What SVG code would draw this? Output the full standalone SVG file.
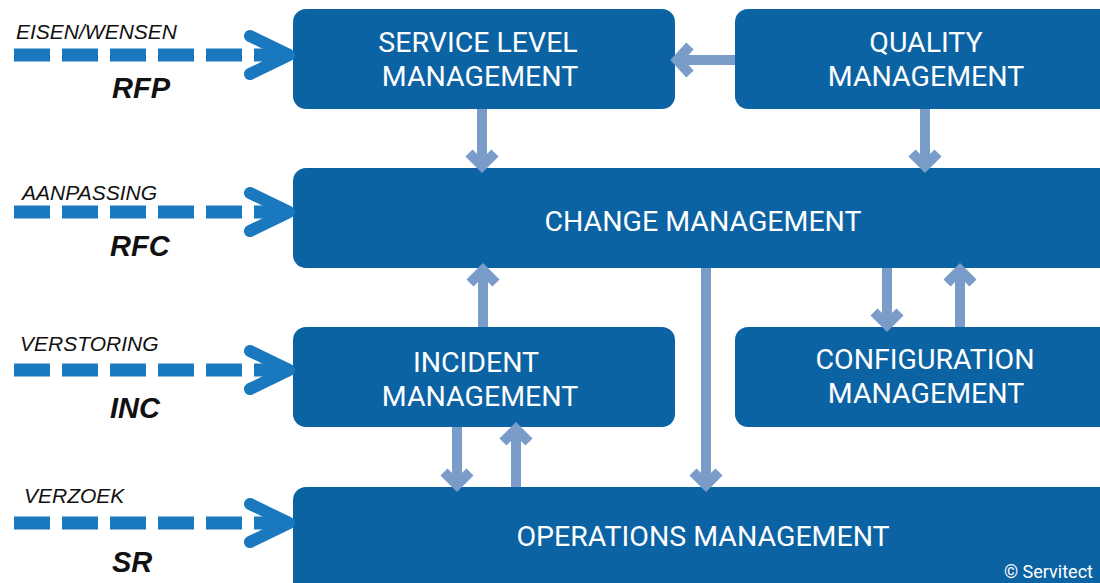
<svg xmlns="http://www.w3.org/2000/svg" width="1100" height="583" viewBox="0 0 1100 583">
<defs>
<style>
.box{fill:#0C63A4}
.bt{fill:#fff;font-family:Roboto,"Open Sans",sans-serif;font-size:28.5px;text-anchor:middle}
.conn{stroke:#7A9CC8;stroke-width:10;fill:none}
.head{stroke:#7A9CC8;stroke-width:10;fill:none;stroke-linejoin:miter}
.dash{stroke:#1A78BF;stroke-width:13;fill:none;stroke-dasharray:36 12}
.chev{stroke:#1A78BF;stroke-width:12;fill:none;stroke-linecap:round;stroke-linejoin:round}
.lbl{font-family:"Liberation Sans",Arial,sans-serif;font-style:italic;font-size:21px;fill:#111}
.code{font-family:"Liberation Sans",Arial,sans-serif;font-style:italic;font-weight:bold;font-size:29px;fill:#111}
</style>
</defs>
<g id="node-slm"><rect class="box" x="293" y="9" width="382" height="100" rx="13"/><text class="bt"><tspan x="478" y="52">SERVICE LEVEL</tspan><tspan x="480" y="86">MANAGEMENT</tspan></text></g>
<g id="node-quality"><rect class="box" x="735" y="9" width="382" height="100" rx="13"/><text class="bt"><tspan x="926" y="52">QUALITY</tspan><tspan x="926" y="86">MANAGEMENT</tspan></text></g>
<g id="node-change"><rect class="box" x="293" y="168" width="830" height="100" rx="13"/><text class="bt" x="703" y="231">CHANGE MANAGEMENT</text></g>
<g id="node-incident"><rect class="box" x="293" y="327" width="382" height="100" rx="13"/><text class="bt"><tspan x="476" y="372">INCIDENT</tspan><tspan x="480" y="406">MANAGEMENT</tspan></text></g>
<g id="node-config"><rect class="box" x="735" y="327" width="382" height="100" rx="13"/><text class="bt"><tspan x="925" y="369">CONFIGURATION</tspan><tspan x="926" y="403">MANAGEMENT</tspan></text></g>
<g id="node-operations"><rect class="box" x="293" y="487" width="830" height="110" rx="13"/><text class="bt" x="703" y="546">OPERATIONS MANAGEMENT</text><text x="1004" y="578" style="fill:#fff;font-family:Roboto,'Open Sans',sans-serif;font-size:18px">© Servitect</text></g>
<g id="connectors">
<line class="conn" x1="735" y1="60" x2="680" y2="60"/><polyline class="head" points="690,46 677,60 690,74"/>
<line class="conn" x1="482" y1="109" x2="482" y2="163"/><polyline class="head" points="469,153 482,166 495,153"/>
<line class="conn" x1="925" y1="109" x2="925" y2="163"/><polyline class="head" points="912,153 925,166 938,153"/>
<line class="conn" x1="483" y1="327" x2="483" y2="273"/><polyline class="head" points="470,283 483,270 496,283"/>
<line class="conn" x1="706" y1="268" x2="706" y2="482"/><polyline class="head" points="693,472 706,485 719,472"/>
<line class="conn" x1="887" y1="268" x2="887" y2="322"/><polyline class="head" points="874,312 887,325 900,312"/>
<line class="conn" x1="960" y1="327" x2="960" y2="273"/><polyline class="head" points="947,283 960,270 973,283"/>
<line class="conn" x1="457" y1="427" x2="457" y2="482"/><polyline class="head" points="444,472 457,485 470,472"/>
<line class="conn" x1="516" y1="487" x2="516" y2="432"/><polyline class="head" points="503,442 516,429 529,442"/>
<line class="dash" x1="14" y1="55" x2="288" y2="55"/><polyline class="chev" points="250,36 289,55 250,74"/>
<line class="dash" x1="14" y1="212" x2="288" y2="212"/><polyline class="chev" points="250,193 289,212 250,231"/>
<line class="dash" x1="14" y1="370" x2="288" y2="370"/><polyline class="chev" points="250,351 289,370 250,389"/>
<line class="dash" x1="14" y1="523" x2="288" y2="523"/><polyline class="chev" points="250,504 289,523 250,542"/>
</g>
<g id="labels">
<text class="lbl" x="16" y="39">EISEN/WENSEN</text><text class="code" x="112" y="98">RFP</text>
<text class="lbl" x="22" y="200">AANPASSING</text><text class="code" x="110" y="256">RFC</text>
<text class="lbl" x="20" y="351">VERSTORING</text><text class="code" x="110" y="418">INC</text>
<text class="lbl" x="24" y="503">VERZOEK</text><text class="code" x="112" y="572">SR</text>
</g>
</svg>
